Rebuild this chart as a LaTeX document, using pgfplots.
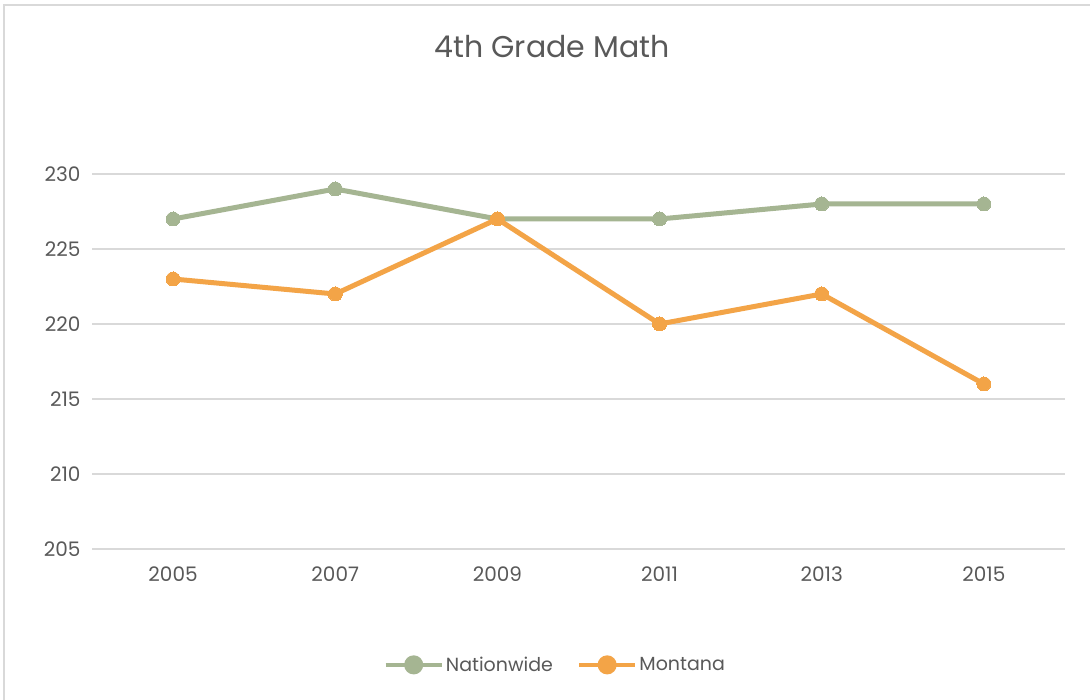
\documentclass[border=0pt]{standalone}
\usepackage{pgfplots}
\pgfplotsset{compat=1.18}
\usepackage{fontspec}
\setmainfont{Poppins}
\definecolor{natgreen}{HTML}{A5B592}
\definecolor{montorange}{HTML}{F3A447}
\definecolor{txtgray}{HTML}{595959}
\definecolor{gridgray}{HTML}{D9D9D9}
\begin{document}
\begin{tikzpicture}[x=1pt,y=1pt]
\path[use as bounding box, fill=white] (0,0) rectangle (1090,700);
\draw[gridgray, line width=2pt] (4,0) -- (4,695) -- (1090,695);
\node[text=txtgray, font=\fontsize{30}{34}\selectfont, anchor=center] at (552,653) {4th Grade Math};
\begin{axis}[
  at={(92pt,151pt)}, anchor=south west,
  scale only axis, width=973pt, height=375pt,
  xmin=-0.5, xmax=5.5, ymin=205, ymax=230,
  xtick={0,1,2,3,4,5},
  xticklabels={2005,2007,2009,2011,2013,2015},
  ytick={205,210,215,220,225,230},
  axis line style={draw=none},
  tick style={draw=none},
  ymajorgrids, grid style={gridgray, line width=1.5pt},
  ticklabel style={text=txtgray, font=\fontsize{20}{22}\selectfont},
  /pgf/number format/assume math mode=true,
  yticklabel style={xshift=-8pt},
  xticklabel style={yshift=-14pt},
  clip=false,
  legend style={at={(0.476,-0.309)}, anchor=center, draw=none, fill=none,
    legend columns=2, font=\fontsize{19}{21}\selectfont, text=txtgray,
    /tikz/every even column/.append style={column sep=22pt}},
  legend image code/.code={
    \draw[#1, line width=4.5pt] (0pt,0pt) -- (56pt,0pt);
    \fill[#1] (28pt,0pt) circle (7pt);
  },
]
\addplot[natgreen, line width=5pt, mark=*, mark size=7pt, mark options={fill=natgreen, draw=natgreen, line width=0pt}]
  coordinates {(0,227) (1,229) (2,227) (3,227) (4,228) (5,228)};
\addlegendentry{Nationwide}
\addplot[montorange, line width=5pt, mark=*, mark size=7pt, mark options={fill=montorange, draw=montorange, line width=0pt}]
  coordinates {(0,223) (1,222) (2,227) (3,220) (4,222) (5,216)};
\addlegendentry{Montana}
\end{axis}
\end{tikzpicture}
\end{document}
